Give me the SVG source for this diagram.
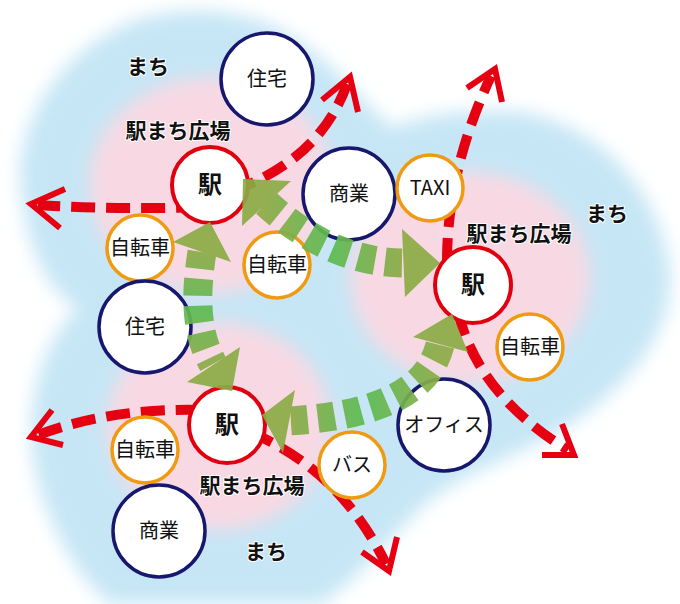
<svg xmlns="http://www.w3.org/2000/svg" width="680" height="604" viewBox="0 0 680 604">
<style>
.lbl{font-family:"Noto Sans CJK JP","Noto Sans",sans-serif;font-weight:bold;font-size:21px;fill:#111;text-anchor:middle;stroke:#fff;stroke-width:2;paint-order:stroke;stroke-linejoin:round}
.nt{font-family:"Noto Sans CJK JP","Noto Sans",sans-serif;font-size:20px;fill:#111;text-anchor:middle}
.eki{font-family:"Noto Sans CJK JP","Noto Sans",sans-serif;font-size:24px;font-weight:bold;fill:#111;text-anchor:middle}
.cn{fill:#fff;stroke:#17176e;stroke-width:3.5}
.cr{fill:#fff;stroke:#e0000f;stroke-width:4}
.co{fill:#fff;stroke:#f09a12;stroke-width:3.5}
.red{fill:none;stroke:#e50012;stroke-width:10;stroke-dasharray:24 11}
.chev{fill:none;stroke:#e50012;stroke-width:6;stroke-linejoin:miter;stroke-linecap:butt}
.gsh{fill:none;stroke-width:29;stroke-dasharray:17 10}
.gh{fill:#8cab46}
</style>
<defs>
<filter id="blurB" filterUnits="userSpaceOnUse" x="-60" y="-60" width="800" height="724"><feGaussianBlur stdDeviation="9"/></filter>
<filter id="blurP" filterUnits="userSpaceOnUse" x="-60" y="-60" width="800" height="724"><feGaussianBlur stdDeviation="9"/></filter>
<linearGradient id="gA" gradientUnits="userSpaceOnUse" x1="0" y1="252" x2="0" y2="364"><stop offset="0" stop-color="#8cab46"/><stop offset="0.5" stop-color="#5cbb52"/><stop offset="1" stop-color="#8cab46"/></linearGradient>
<linearGradient id="gB" gradientUnits="userSpaceOnUse" x1="266" y1="0" x2="403" y2="0"><stop offset="0" stop-color="#8cab46"/><stop offset="0.48" stop-color="#5cbb52"/><stop offset="1" stop-color="#8cab46"/></linearGradient>
<linearGradient id="gC" gradientUnits="userSpaceOnUse" x1="289" y1="0" x2="440" y2="0"><stop offset="0" stop-color="#8cab46"/><stop offset="0.5" stop-color="#5cbb52"/><stop offset="1" stop-color="#8cab46"/></linearGradient>
</defs>
<rect width="680" height="604" fill="#fff"/>
<g id="background">
<path filter="url(#blurB)" fill="#c6e6f6" d="M20,170 C25,110 60,55 130,22 C180,5 250,5 300,42 C340,70 365,105 393,128 C420,115 470,108 520,112 C600,125 660,190 670,270 C675,340 620,390 570,425 C520,455 470,470 430,500 C395,530 360,580 320,604 L110,604 C70,570 40,510 32,450 C28,390 45,340 78,308 C45,290 22,240 20,170 Z"/>
<g filter="url(#blurP)" fill="#f8d9e3">
<ellipse cx="211" cy="185" rx="122" ry="108"/>
<ellipse cx="470" cy="278" rx="120" ry="106"/>
<ellipse cx="219" cy="426" rx="112" ry="104"/>
</g>
</g>
<g id="labels">
<text class="lbl" x="148" y="74">まち</text>
<text class="lbl" x="178" y="138">駅まち広場</text>
<text class="lbl" x="607" y="221">まち</text>
<text class="lbl" x="519" y="241">駅まち広場</text>
<text class="lbl" x="252" y="493">駅まち広場</text>
<text class="lbl" x="266" y="559">まち</text>
</g>
<g id="red-connectors">
<path class="red" d="M200,207 Q120,210 38,205"/>
<polyline class="chev" points="65,189 31,204 60,228"/>
<path class="red" d="M232,191 Q320,160 347,84"/>
<polyline class="chev" points="322,100 350,77 358,112"/>
<path class="red" d="M447,262 Q447,170 491,76"/>
<polyline class="chev" points="467,88 495,69 502,102"/>
<path class="red" d="M458,312 Q478,395 568,450"/>
<polyline class="chev" points="562,424 574,455 542,455"/>
<path class="red" d="M200,410 Q110,408 38,435"/>
<polyline class="chev" points="52,410 31,437 63,445"/>
<path class="red" d="M250,432 Q340,470 386,564"/>
<polyline class="chev" points="362,552 389,571 397,537"/>
</g>
<g id="n-jutaku1"><circle class="cn" cx="267" cy="79" r="46"/><text class="nt" x="267" y="86">住宅</text></g>
<g id="n-eki1"><circle class="cr" cx="210" cy="185" r="38"/><text class="eki" x="210" y="193">駅</text></g>
<g id="n-jitensha1"><circle class="co" cx="140" cy="248" r="33"/><text class="nt" x="140" y="255">自転車</text></g>
<g id="n-jitensha2"><circle class="co" cx="277" cy="265" r="33"/><text class="nt" x="277" y="272">自転車</text></g>
<g id="n-shogyo1"><circle class="cn" cx="349" cy="194" r="46"/><text class="nt" x="349" y="201">商業</text></g>
<g id="n-taxi"><circle class="co" cx="430" cy="188" r="33"/><text class="nt" x="430" y="195">TAXI</text></g>
<g id="n-eki2"><circle class="cr" cx="473" cy="285" r="38"/><text class="eki" x="473" y="293">駅</text></g>
<g id="n-jitensha3"><circle class="co" cx="530" cy="347" r="33"/><text class="nt" x="530" y="354">自転車</text></g>
<g id="n-office"><circle class="cn" cx="444" cy="425" r="46"/><text class="nt" x="444" y="432">オフィス</text></g>
<g id="n-bus"><circle class="co" cx="352" cy="465" r="33"/><text class="nt" x="352" y="472">バス</text></g>
<g id="n-jutaku2"><circle class="cn" cx="145" cy="327" r="46"/><text class="nt" x="145" y="334">住宅</text></g>
<g id="n-eki3"><circle class="cr" cx="227" cy="425" r="38"/><text class="eki" x="227" y="433">駅</text></g>
<g id="n-jitensha4"><circle class="co" cx="145" cy="450" r="33"/><text class="nt" x="145" y="457">自転車</text></g>
<g id="n-shogyo2"><circle class="cn" cx="159" cy="531" r="46"/><text class="nt" x="159" y="538">商業</text></g>
<g id="green-connectors" opacity="0.92">
<path class="gsh" stroke="url(#gA)" d="M202,252 C196,290 194,330 213,364"/>
<polygon class="gh" points="173,242 210,222 231,262"/>
<polygon class="gh" points="187,382 240,347 232,391"/>
<path class="gsh" stroke="url(#gB)" d="M266,203 Q330,262 403,263"/>
<polygon class="gh" points="243,179 291,181 242,226"/>
<polygon class="gh" points="402,229 440,263 405,297"/>
<path class="gsh" stroke="url(#gC)" d="M440,345 C430,385 390,415 289,421"/>
<polygon class="gh" points="413,337 452,314 468,352"/>
<polygon class="gh" points="262,415 295,390 283,453"/>
</g>
</svg>
